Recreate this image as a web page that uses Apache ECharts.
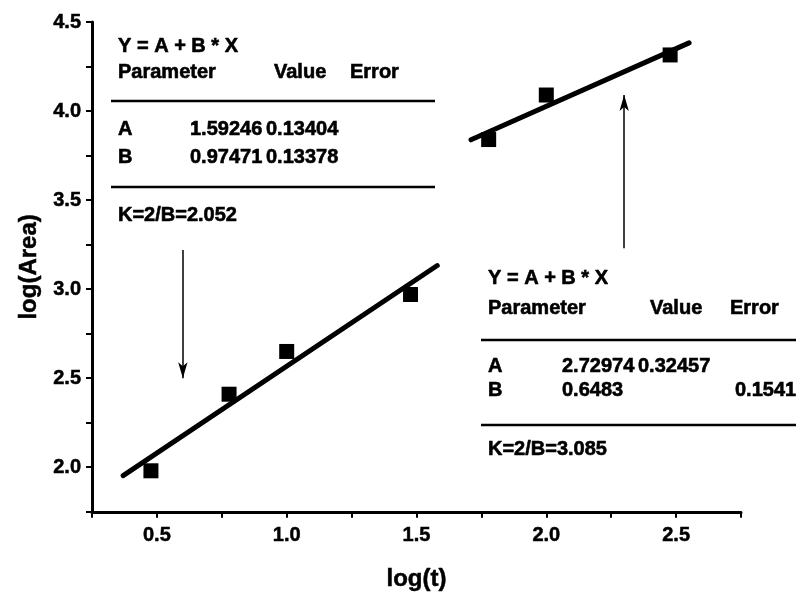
<!DOCTYPE html>
<html>
<head>
<meta charset="utf-8">
<script src="https://cdn.jsdelivr.net/npm/echarts@6/dist/echarts.min.js"></script>
<style>
  html, body { margin: 0; padding: 0; background: #fff; }
  #chart { width: 796px; height: 597px; }
</style>
</head>
<body>
<div id="chart"></div>
<script>
// Measured points: log(t) vs log(Area), two regimes
const logT1 = [0.477, 0.778, 1.0, 1.477];
const logArea1 = [1.98, 2.41, 2.65, 2.97];
const logT2 = [1.778, 2.0, 2.477];
const logArea2 = [3.84, 4.09, 4.315];

// Linear fit results Y = A + B * X for each regime
const fitA = [1.59246, 2.72974];
const fitErrA = [0.13404, 0.32457];
const fitB = [0.97471, 0.6483];
const fitErrB = [0.13378, 0.15416];
const kValues = [2.052, 3.085];
const fitRange1 = [0.37, 1.58];
const fitRange2 = [1.71, 2.55];

// Pointer arrows from each fit table to its line (data coordinates)
const arrowX = [0.6, 2.3];
const arrowFrom = [3.22, 3.23];
const arrowTo = [2.50, 4.09];

const FONT = 'Liberation Sans, Arial, sans-serif';

function fitLine(i, range) {
  return range.map(x => [x, fitA[i] + fitB[i] * x]);
}

const chart = echarts.init(document.getElementById('chart'), null, { renderer: 'canvas' });

function txt(x, y, s) {
  return {
    type: 'text', x: x, y: y, silent: true,
    style: {
      text: s, font: 'bold 20px ' + FONT, fill: '#000',
      stroke: '#000', lineWidth: 0.6,
      verticalAlign: 'middle', textVerticalAlign: 'middle'
    }
  };
}
function rule(x1, x2, y) {
  return {
    type: 'line', silent: true,
    shape: { x1: x1, y1: y, x2: x2, y2: y },
    style: { stroke: '#000', lineWidth: 2.5 }
  };
}

// Fit table for regime i: header, parameter rows, rules and K value
function table(i, x0, xVal, xErr, xAV, xAE, xBV, xBE, ys, lineX2) {
  return [
    txt(x0, ys[0], 'Y = A + B * X'),
    txt(x0, ys[1], 'Parameter'),
    txt(xVal, ys[1], 'Value'),
    txt(xErr, ys[1], 'Error'),
    rule(x0 - 7, lineX2, ys[2]),
    txt(x0, ys[3], 'A'),
    txt(xAV, ys[3], String(fitA[i])),
    txt(xAE, ys[3], String(fitErrA[i])),
    txt(x0, ys[4], 'B'),
    txt(xBV, ys[4], String(fitB[i])),
    txt(xBE, ys[4], String(fitErrB[i])),
    rule(x0 - 7, lineX2, ys[5]),
    txt(x0, ys[6], 'K=2/B=' + kValues[i].toFixed(3))
  ];
}

const graphics = []
  .concat(table(0, 118, 274, 350, 190, 266, 190, 266, [46, 72, 101, 129, 157, 187, 215], 435))
  .concat(table(1, 488, 650, 730, 562, 638, 562, 735, [278, 308, 340, 366, 390, 425, 449], 800));

const axisText = { fontFamily: FONT, fontWeight: 'bold', color: '#000', textBorderColor: '#000', textBorderWidth: 0.5 };

const option = {
  animation: false,
  backgroundColor: '#fff',
  grid: { left: 92, right: 55, top: 22, bottom: 80 },
  xAxis: {
    type: 'value', min: 0.25, max: 2.75, interval: 0.25,
    name: 'log(t)', nameLocation: 'middle', nameGap: 56,
    nameTextStyle: Object.assign({ fontSize: 24 }, axisText),
    axisLine: { show: true, onZero: false, lineStyle: { color: '#000', width: 3 } },
    axisTick: { show: true, length: 6, lineStyle: { color: '#000', width: 2 } },
    axisLabel: Object.assign({
      margin: 14, fontSize: 20,
      formatter: v => (Math.abs(v * 2 - Math.round(v * 2)) < 1e-6 ? v.toFixed(1) : '')
    }, axisText),
    splitLine: { show: false }
  },
  yAxis: {
    type: 'value', min: 1.75, max: 4.5, interval: 0.25,
    name: 'log(Area)', nameLocation: 'middle', nameGap: 50, nameRotate: 90,
    nameTextStyle: Object.assign({ fontSize: 24 }, axisText),
    axisLine: { show: true, onZero: false, lineStyle: { color: '#000', width: 3 } },
    axisTick: { show: true, length: 6, lineStyle: { color: '#000', width: 2 } },
    axisLabel: Object.assign({
      margin: 11, fontSize: 20,
      formatter: v => (Math.abs(v * 2 - Math.round(v * 2)) < 1e-6 ? v.toFixed(1) : '')
    }, axisText),
    splitLine: { show: false }
  },
  series: [
    {
      type: 'line', data: fitLine(0, fitRange1), showSymbol: false,
      lineStyle: { color: '#000', width: 5, cap: 'round' }, z: 2,
      markLine: {
        silent: true, symbol: ['none', 'arrow'], symbolSize: [7, 16],
        label: { show: false },
        lineStyle: { color: '#000', width: 1.5, type: 'solid' },
        data: [[{ coord: [arrowX[0], arrowFrom[0]] }, { coord: [arrowX[0], arrowTo[0]] }]]
      }
    },
    {
      type: 'line', data: fitLine(1, fitRange2), showSymbol: false,
      lineStyle: { color: '#000', width: 5, cap: 'round' }, z: 2,
      markLine: {
        silent: true, symbol: ['none', 'arrow'], symbolSize: [7, 16],
        label: { show: false },
        lineStyle: { color: '#000', width: 1.5, type: 'solid' },
        data: [[{ coord: [arrowX[1], arrowFrom[1]] }, { coord: [arrowX[1], arrowTo[1]] }]]
      }
    },
    {
      type: 'scatter', symbol: 'rect', symbolSize: 15, z: 3,
      itemStyle: { color: '#000', opacity: 1 },
      data: logT1.map((x, i) => [x, logArea1[i]])
    },
    {
      type: 'scatter', symbol: 'rect', symbolSize: 15, z: 3,
      itemStyle: { color: '#000', opacity: 1 },
      data: logT2.map((x, i) => [x, logArea2[i]])
    }
  ],
  graphic: { elements: graphics }
};

chart.setOption(option);
</script>
</body>
</html>
